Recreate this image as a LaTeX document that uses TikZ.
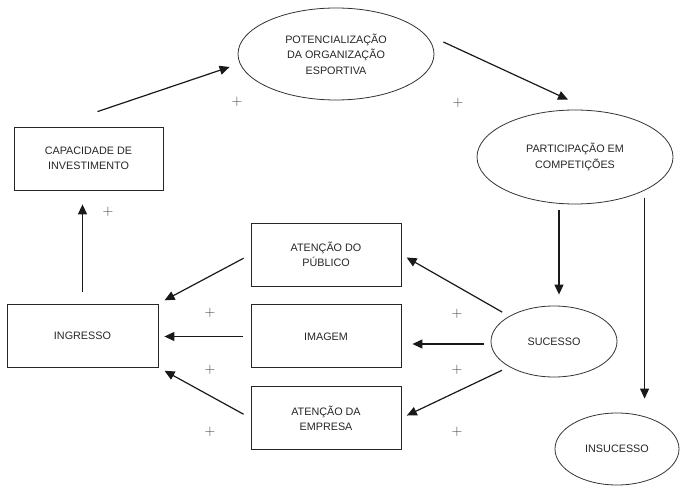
\documentclass[tikz,border=0pt]{standalone}
\usepackage{fontspec}
\setmainfont{Liberation Sans}
\newfontfamily\plusfont{Latin Modern Roman}
\usetikzlibrary{positioning, shapes.geometric, arrows.meta}

\begin{document}
\begin{tikzpicture}[
  x=1pt, y=-1pt,
  font=\fontsize{10.8}{15.5}\selectfont,
  node distance=18pt and 10pt,
  caixa/.style ={rectangle, draw=black!85, line width=0.8pt,
                 minimum width=150pt, minimum height=63pt,
                 align=center, text=black!85, inner sep=0pt},
  elipse/.style={ellipse, draw=black!80, line width=0.8pt,
                 align=center, text=black!85, inner sep=0pt},
  mais/.style  ={font=\plusfont\fontsize{15}{15}\selectfont, text=black!75, inner sep=0pt},
  flow/.style  ={-{Triangle[length=10pt, width=9pt]}, line width=1.2pt, black!90}
]
\useasboundingbox (0,0) rectangle (680,486);

% ---------- Ciclo superior ----------
\node[elipse, minimum width=196pt, minimum height=92pt] (pot) at (336,54)
     {POTENCIALIZAÇÃO\\DA ORGANIZAÇÃO\\ESPORTIVA};
\node[elipse, minimum width=196pt, minimum height=94pt] (part) at (575,157)
     {PARTICIPAÇÃO EM\\COMPETIÇÕES};
\node[caixa, minimum width=149pt] (cap) at (88.5,158.5) {CAPACIDADE DE\\INVESTIMENTO};

% ---------- Coluna central ----------
\node[caixa] (pub) at (326,254.5) {ATENÇÃO DO\\PÚBLICO};
\node[caixa, below=of pub] (img) {IMAGEM};
\node[caixa, below=of img] (emp) {ATENÇÃO DA\\EMPRESA};
\node[caixa, minimum width=151pt] (ing) at (82.5,335.5) {INGRESSO};

% ---------- Resultados ----------
\node[elipse, minimum width=126pt, minimum height=71pt] (suc) at (554,341.5) {SUCESSO};
\node[elipse, minimum width=124pt, minimum height=72pt] (ins) at (617,449) {INSUCESSO};

% ---------- Setas ----------
\draw[flow] ([shift={(9,-15)}]cap.north) -- ([shift={(-8,13)}]pot.west);
\draw[flow] ([shift={(9,-12)}]pot.east)  -- ([shift={(-7,-10)}]part.north);
\draw[flow, shorten <=6pt, shorten >=11pt] ([xshift=5pt]suc.north |- part.south) -- ([xshift=5pt]suc.north);
\draw[flow, shorten <=7pt, shorten >=14pt] (part.south east) -- (part.south east |- ins.north);

\draw[flow, shorten <=8pt, shorten >=6pt] (suc.north west) -- (pub.east);
\draw[flow, shorten <=7pt, shorten >=11pt] ([yshift=-2.5pt]suc.west) -- ([yshift=-2.5pt]suc.west -| img.east);
\draw[flow, shorten <=8pt, shorten >=6pt] (suc.south west) -- (emp.east);

\draw[flow, shorten <=8pt, shorten >=7pt] (pub.west) -- (ing.north east);
\draw[flow, shorten <=8pt, shorten >=6pt] ([yshift=-1pt]ing.east -| img.west) -- ([yshift=-1pt]ing.east);
\draw[flow, shorten <=8pt, shorten >=7pt] (emp.west) -- (ing.south east);

\draw[flow, shorten <=12pt, shorten >=14pt] (ing.north) -- (ing.north |- cap.south);

% ---------- Sinais ----------
\node[mais] (m1) at (237,102) {+};
\node[mais] (m2) at (458,103) {+};
\node[mais] (m3) at (108,212) {+};
\node[mais] (m4) at (210,313) {+};
\node[mais] (m5) at (210,370) {+};
\node[mais] (m6) at (210,432) {+};
\node[mais] (m7) at (457,314) {+};
\node[mais] (m8) at (457,370) {+};
\node[mais] (m9) at (457,432) {+};

\end{tikzpicture}
\end{document}
